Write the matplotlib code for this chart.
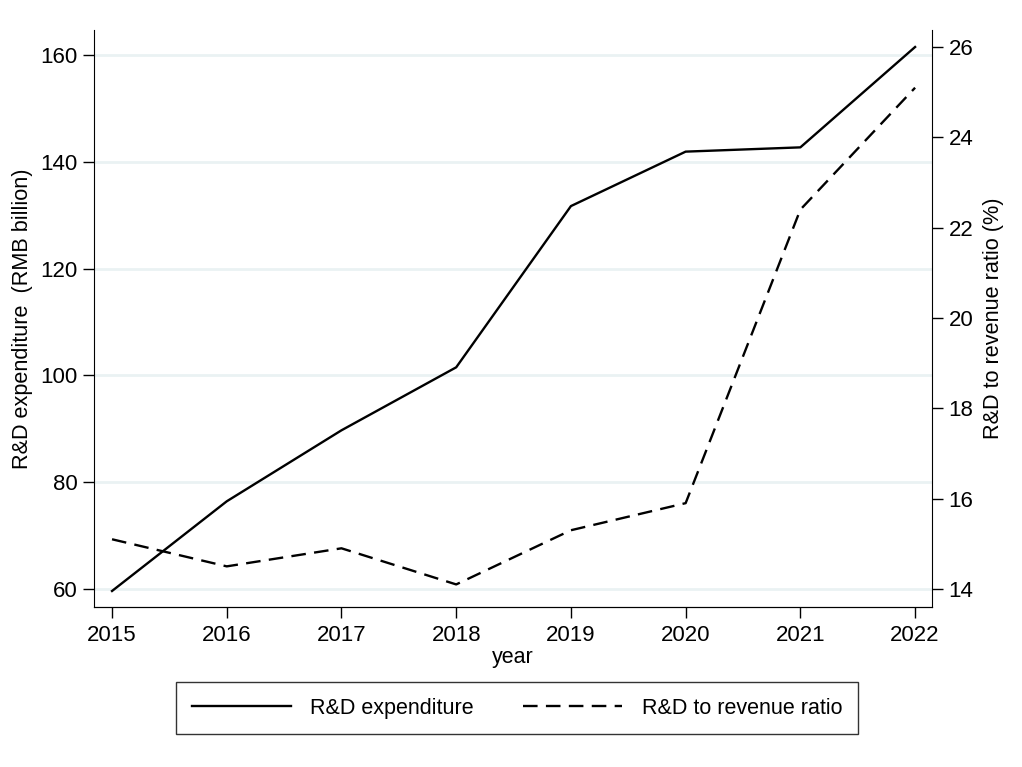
import matplotlib.pyplot as plt

plt.rcParams['font.family'] = ['Liberation Sans', 'DejaVu Sans']

years = [2015, 2016, 2017, 2018, 2019, 2020, 2021, 2022]
rd_spend = [59.6, 76.4, 89.7, 101.5, 131.7, 141.9, 142.7, 161.5]   # RMB billion
rd_ratio = [15.1, 14.5, 14.9, 14.1, 15.3, 15.9, 22.4, 25.1]        # % of revenue

left_ticks = [60, 80, 100, 120, 140, 160]
right_ticks = [14, 16, 18, 20, 22, 24, 26]

fs = 15.5
fig = plt.figure(figsize=(10.22, 7.67), dpi=100)
ax = fig.add_axes([0.092, 0.2086, 0.820, 0.7524])
ax2 = ax.twinx()

lw = 1.7
l1, = ax.plot(years, rd_spend, color='black', lw=lw, label='R&D expenditure')
l2, = ax2.plot(years, rd_ratio, color='black', lw=lw,
               linestyle=(0, (10.5 / lw, 6.0 / lw)), label='R&D to revenue ratio')

ax.set_xlim(2014.843, 2022.148)
ax.set_ylim(56.6, 164.7)
ax2.set_ylim(13.60, 26.38)

ax.set_yticks(left_ticks)
ax2.set_yticks(right_ticks)
ax.set_xticks(years)

ax.grid(axis='y', color='#eaf2f3', lw=2)
ax.set_axisbelow(True)

for a in (ax, ax2):
    a.spines['top'].set_visible(False)
    a.tick_params(labelsize=16, length=8, width=1, direction='out', pad=4)
ax.tick_params(axis='x', pad=5)
ax.spines['right'].set_visible(False)
ax2.spines['left'].set_visible(False)

ax.set_xlabel('year', fontsize=fs, labelpad=1)
ax.set_ylabel('R&D expenditure  (RMB billion)', fontsize=15.6, labelpad=5)
ax2.set_ylabel('R&D to revenue ratio (%)', fontsize=15.6, labelpad=7)

leg = fig.legend(handles=[l1, l2], loc='center', bbox_to_anchor=(0.506, 0.0763),
                 ncol=2, fontsize=fs, frameon=True, fancybox=False,
                 edgecolor='black', handlelength=4.6, handletextpad=0.9,
                 columnspacing=2.3, borderpad=0.72)
leg.get_frame().set_linewidth(1.0)

fig.savefig('out.png', dpi=100)
